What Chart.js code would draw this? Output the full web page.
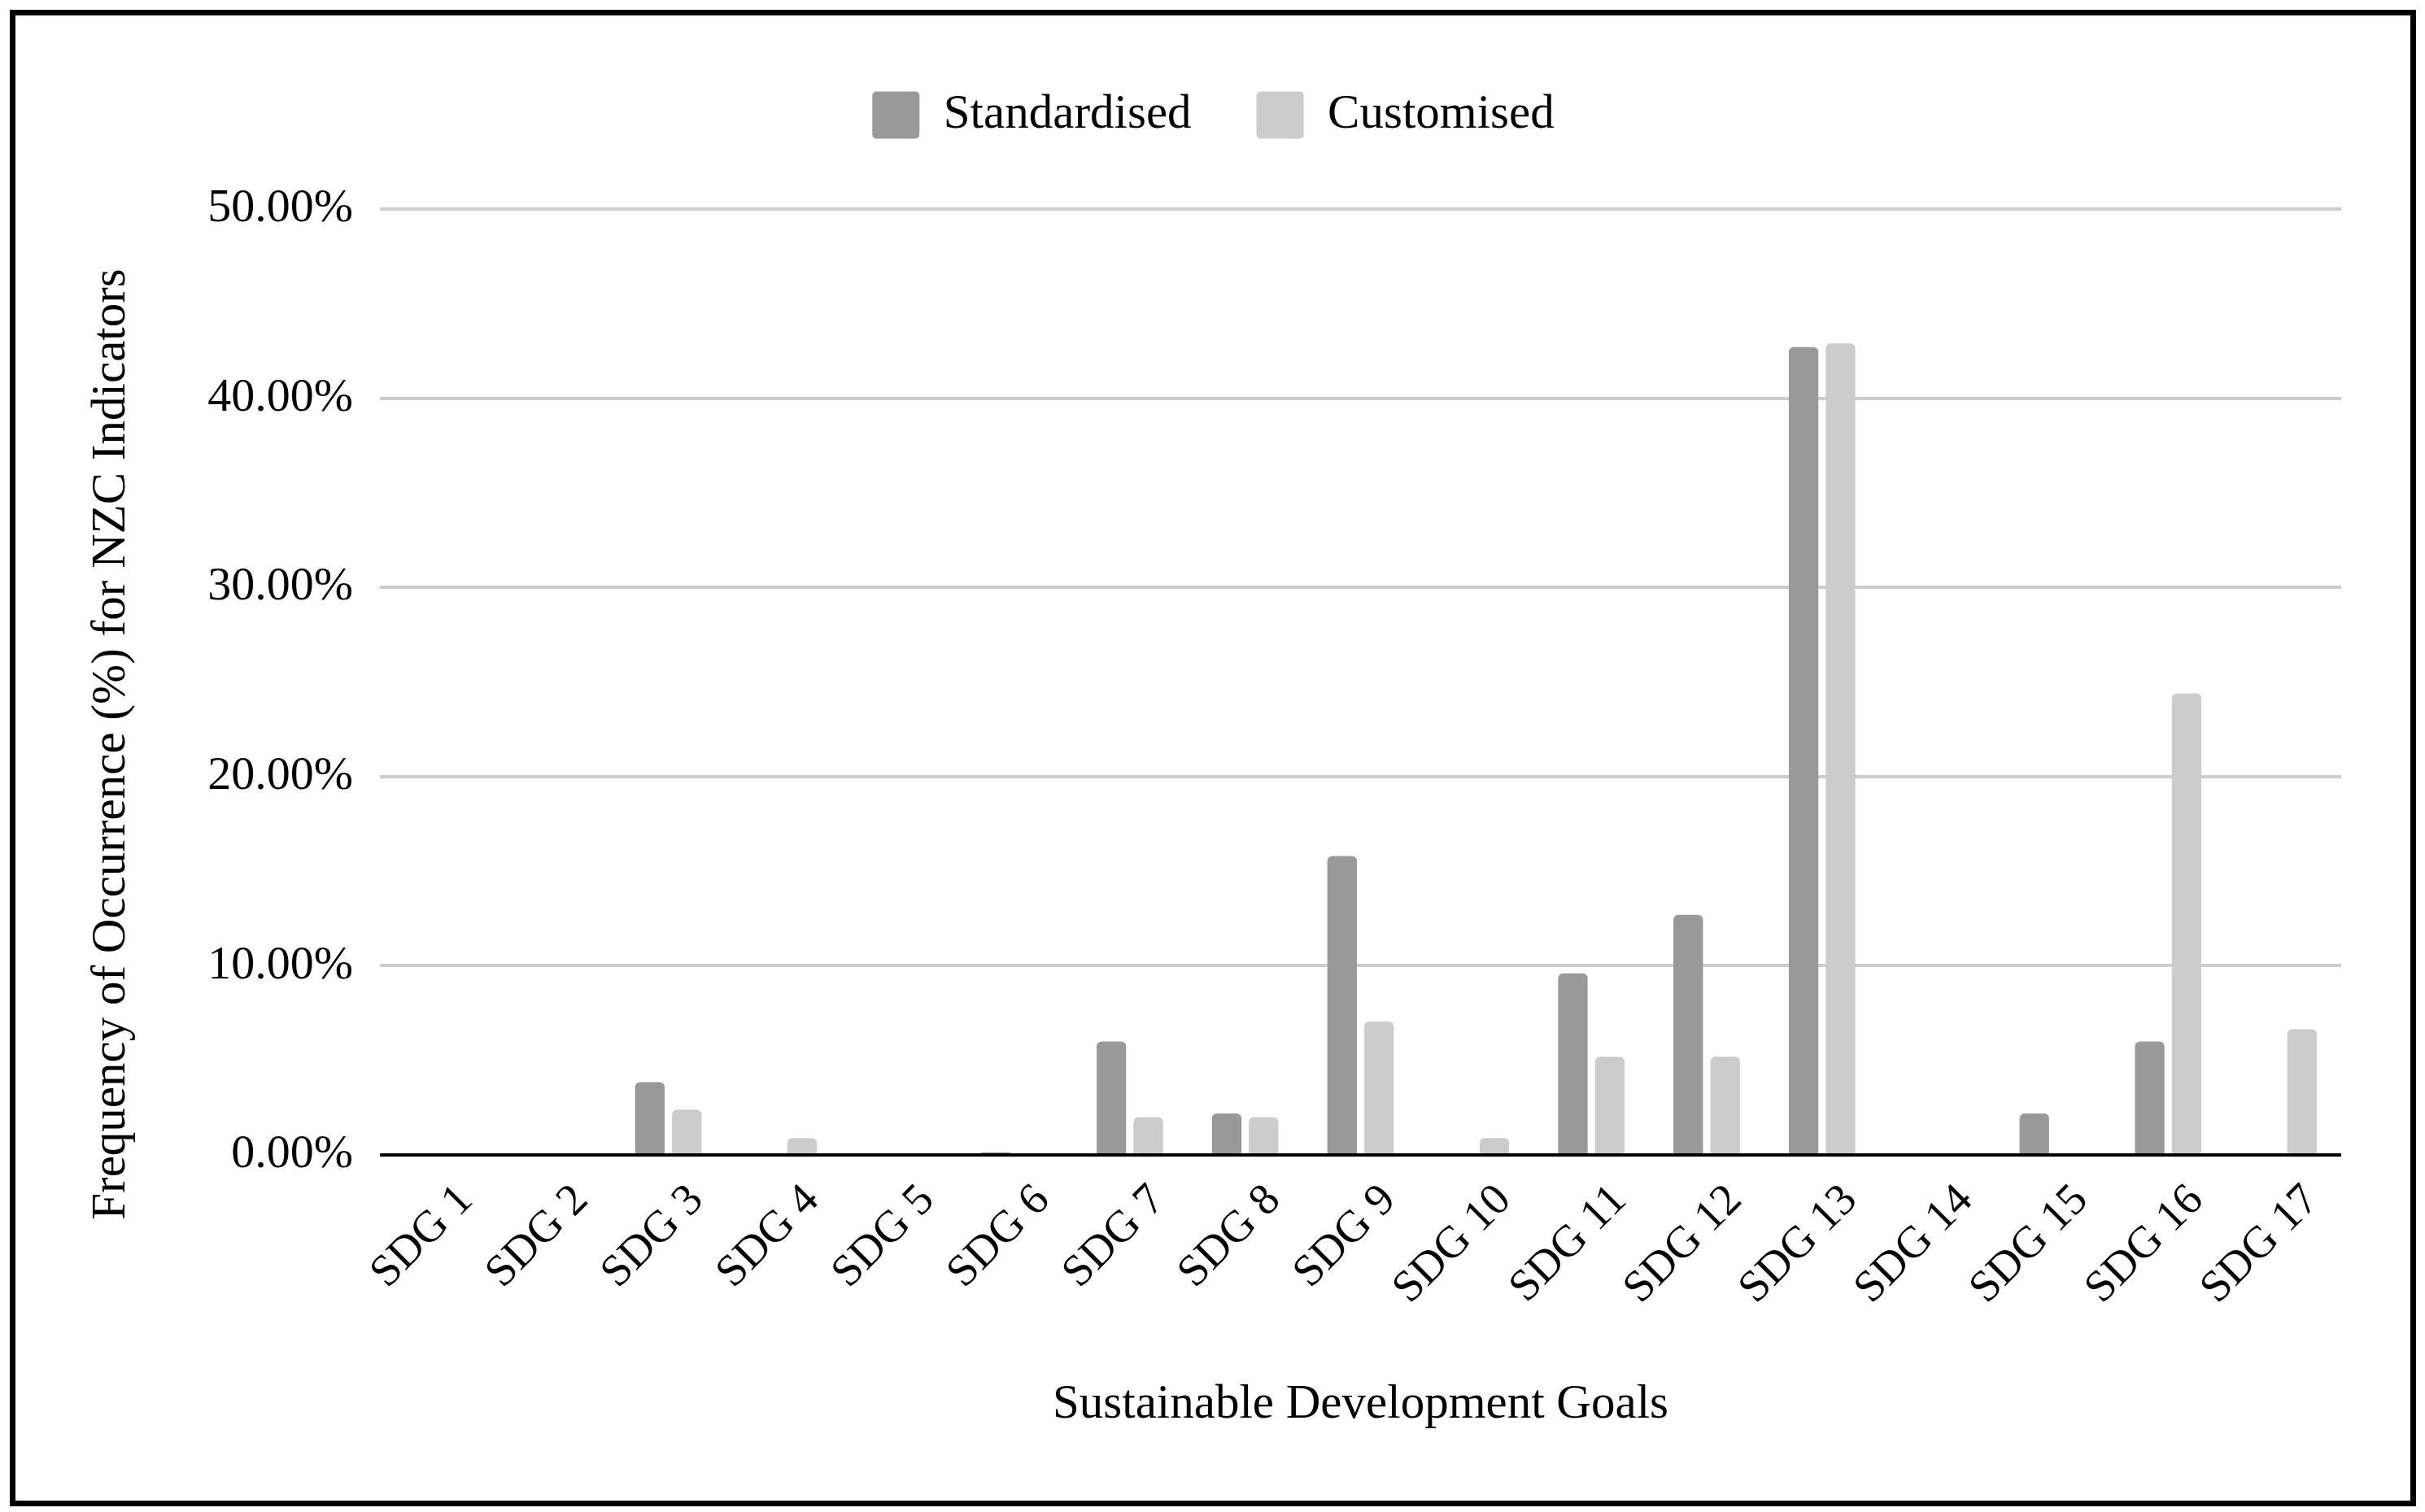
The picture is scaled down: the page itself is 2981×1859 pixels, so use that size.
<!DOCTYPE html>
<html>
<head>
<meta charset="utf-8">
<script src="https://cdn.jsdelivr.net/npm/chart.js@4"></script>
<style>
  html, body { margin: 0; padding: 0; background: #fff; }
  #frame { position: absolute; left: 12px; top: 12px; width: 2944px; height: 1826px; border: 7px solid #000; }
  #chart { position: absolute; left: 0; top: 0; }
</style>
</head>
<body>
<div id="frame"></div>
<canvas id="chart" width="2981" height="1859"></canvas>
<script>
const categories = ['SDG 1', 'SDG 2', 'SDG 3', 'SDG 4', 'SDG 5', 'SDG 6', 'SDG 7', 'SDG 8', 'SDG 9',
    'SDG 10', 'SDG 11', 'SDG 12', 'SDG 13', 'SDG 14', 'SDG 15', 'SDG 16', 'SDG 17'];
const standardised = [0, 0, 3.85, 0, 0, 0.15, 6.0, 2.2, 15.8, 0, 9.6, 12.7, 42.7, 0, 2.2, 6.0, 0];
const customised = [0, 0, 2.4, 0.9, 0, 0, 2.0, 2.0, 7.05, 0.9, 5.2, 5.2, 42.9, 0, 0, 24.4, 6.65];
const yTicks = [0, 10, 20, 30, 40, 50];

const serif = "'Liberation Serif', 'Times New Roman', serif";
Chart.defaults.font.family = serif;
Chart.defaults.font.size = 58;
Chart.defaults.color = '#000';

// push the plot down a bit below the legend
const legendGap = {
    id: 'legendGap',
    beforeInit(chart) {
        const fit = chart.legend.fit;
        chart.legend.fit = function () {
            fit.bind(chart.legend)();
            this.height += 76;
        };
    }
};

// y title is centred on the whole picture, not on the axis
const yTitle = {
    id: 'yTitle',
    afterDraw(chart) {
        const ctx = chart.ctx;
        ctx.save();
        ctx.translate(137, 915);
        ctx.rotate(-Math.PI / 2);
        ctx.font = '59px ' + serif;
        ctx.fillStyle = '#000';
        ctx.textAlign = 'center';
        ctx.textBaseline = 'middle';
        ctx.fillText('Frequency of Occurrence (%) for NZC Indicators', 0, 0);
        ctx.restore();
    }
};

const context = document.getElementById('chart').getContext('2d');
const myChart = new Chart(context, {
    type: 'bar',
    data: {
        labels: categories,
        datasets: [{
            label: 'Standardised',
            data: standardised,
            backgroundColor: '#999999',
            borderRadius: 6,
            borderSkipped: 'start',
            categoryPercentage: 0.64,
            barPercentage: 0.8
        }, {
            label: 'Customised',
            data: customised,
            backgroundColor: '#cccccc',
            borderRadius: 6,
            borderSkipped: 'start',
            categoryPercentage: 0.64,
            barPercentage: 0.8
        }]
    },
    options: {
        responsive: false,
        animation: false,
        devicePixelRatio: 1,
        layout: {
            padding: { left: 105, right: 103, top: 32, bottom: 96 }
        },
        plugins: {
            legend: {
                position: 'top',
                labels: {
                    font: { size: 59 },
                    boxWidth: 58,
                    boxHeight: 58,
                    padding: 80,
                    useBorderRadius: true,
                    borderRadius: 5
                }
            },
            tooltip: { enabled: false }
        },
        scales: {
            x: {
                grid: { display: false },
                border: { display: false },
                ticks: {
                    font: { size: 55 },
                    minRotation: 45,
                    maxRotation: 45,
                    padding: 16,
                    labelOffset: 35
                },
                title: {
                    display: true,
                    text: 'Sustainable Development Goals',
                    font: { size: 59 },
                    padding: { top: 59, bottom: 0 }
                }
            },
            y: {
                min: yTicks[0],
                max: yTicks[yTicks.length - 1],
                afterBuildTicks(scale) {
                    scale.ticks = yTicks.map(v => ({ value: v }));
                },
                afterFit(scale) {
                    scale.width = 362;
                },
                border: { display: false },
                grid: {
                    drawTicks: false,
                    color: c => c.tick && c.tick.value === 0 ? '#000000' : '#cccccc',
                    lineWidth: 4
                },
                ticks: {
                    padding: 33,
                    callback: v => v.toFixed(2) + '%'
                }
            }
        }
    },
    plugins: [legendGap, yTitle]
});
</script>
</body>
</html>
